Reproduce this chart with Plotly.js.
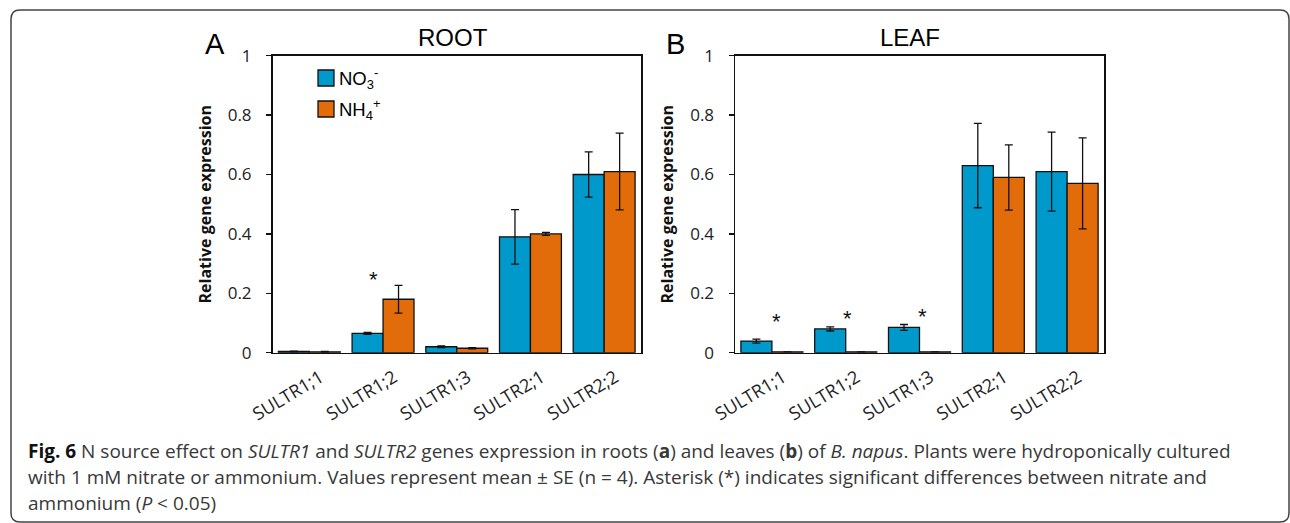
<!DOCTYPE html>
<html>
<head>
<meta charset="utf-8">
<script src="https://cdn.plot.ly/plotly-3.0.1.min.js"></script>
<style>
  html, body { margin: 0; padding: 0; background: #ffffff; }
  #chart { width: 1290px; height: 523px; }
</style>
</head>
<body>
<div id="chart"></div>
<script>
// ---- data ----
var genes = ["SULTR1;1", "SULTR1;2", "SULTR1;3", "SULTR2;1", "SULTR2;2"];

var rootNitrate     = [0.004, 0.065, 0.020, 0.39, 0.60];
var rootNitrateSE   = [0.001, 0.003, 0.003, 0.092, 0.076];
var rootAmmonium    = [0.003, 0.180, 0.015, 0.40, 0.61];
var rootAmmoniumSE  = [0.001, 0.047, 0.002, 0.005, 0.129];

var leafNitrate     = [0.039, 0.080, 0.085, 0.63, 0.61];
var leafNitrateSE   = [0.007, 0.007, 0.010, 0.142, 0.133];
var leafAmmonium    = [0.003, 0.003, 0.003, 0.59, 0.57];
var leafAmmoniumSE  = [0.000, 0.000, 0.000, 0.110, 0.153];

// significance marks: [gene, y position]
var rootStars = [["SULTR1;2", 0.245]];
var leafStars = [["SULTR1;1", 0.106], ["SULTR1;2", 0.116], ["SULTR1;3", 0.121]];

var yTickVals = [0, 0.2, 0.4, 0.6, 0.8, 1];
var yTickText = ["0", "0.2", "0.4", "0.6", "0.8", "1"];

var nitrateColor = "#0099CC";
var ammoniumColor = "#E36C0A";
var seriesNames = ["NO<sub>3</sub><sup>-</sup>", "NH<sub>4</sub><sup>+</sup>"];

// ---- helpers ----
var W = 1290, H = 523;
function px(x) { return x / W; }
function py(y) { return 1 - y / H; }

function barTrace(vals, se, color, name, xa, ya) {
  return {
    type: "bar",
    x: genes,
    y: vals,
    name: name,
    xaxis: xa,
    yaxis: ya,
    showlegend: false,
    marker: { color: color, line: { color: "#111111", width: 1.3 } },
    error_y: { type: "data", array: se, visible: true, color: "#111111", thickness: 1.3, width: 4 },
    hoverinfo: "x+y"
  };
}

var data = [
  barTrace(rootNitrate, rootNitrateSE, nitrateColor, seriesNames[0], "x", "y"),
  barTrace(rootAmmonium, rootAmmoniumSE, ammoniumColor, seriesNames[1], "x", "y"),
  barTrace(leafNitrate, leafNitrateSE, nitrateColor, seriesNames[0], "x2", "y2"),
  barTrace(leafAmmonium, leafAmmoniumSE, ammoniumColor, seriesNames[1], "x2", "y2")
];

var tickFont = { family: "Open Sans, sans-serif", size: 17, color: "#222222" };
var xTickFont = { family: "Open Sans, sans-serif", size: 18, color: "#222222" };

function yAxis(anchor) {
  return {
    anchor: anchor,
    domain: [py(352.7), py(55.7)],
    range: [0, 1],
    tickvals: yTickVals,
    ticktext: yTickText,
    ticks: "outside",
    ticklen: 5,
    tickwidth: 1.3,
    tickcolor: "#111111",
    tickfont: tickFont,
    ticklabelstandoff: 11,
    showline: true,
    linecolor: "#111111",
    linewidth: 1.5,
    mirror: true,
    showgrid: false,
    zeroline: false,
    title: {
      text: "<b>Relative gene expression</b>",
      font: { family: "Open Sans, sans-serif", size: 16, color: "#111111" },
      standoff: 12
    }
  };
}

function xAxis(domain, anchor) {
  return {
    anchor: anchor,
    domain: domain,
    type: "category",
    tickangle: -31,
    ticks: "",
    tickfont: xTickFont,
    ticklabelshift: 11,
    ticklabelstandoff: 6,
    showline: true,
    linecolor: "#111111",
    linewidth: 1.5,
    mirror: true,
    showgrid: false,
    zeroline: false
  };
}

function paperText(text, x, y, size, xanchor) {
  return { text: text, x: px(x), y: py(y), xref: "paper", yref: "paper", showarrow: false,
    xanchor: xanchor || "center", yanchor: "middle", align: "left",
    font: { family: "Liberation Sans, Arial, sans-serif", size: size, color: "#000" } };
}

var captionFont = { family: "Open Sans, sans-serif", size: 19, color: "#383838" };
function captionLine(text, y) {
  return { text: text, x: px(26), y: py(y), xref: "paper", yref: "paper", xanchor: "left", yanchor: "middle",
    align: "left", showarrow: false, font: captionFont };
}

var annotations = [
  paperText("A", 215, 44, 29),
  paperText("B", 675, 44, 29),
  paperText("ROOT", 453, 37, 24),
  paperText("LEAF", 910, 37, 24),
  paperText(seriesNames[0], 337, 78, 18.5, "left"),
  paperText(seriesNames[1], 337, 109, 18.5, "left"),
  captionLine("<b style='color:#111'>Fig. 6</b> N source effect on <i>SULTR1</i> and <i>SULTR2</i> genes expression in roots (<b>a</b>) and leaves (<b>b</b>) of <i>B. napus</i>. Plants were hydroponically cultured", 451),
  captionLine("with 1 mM nitrate or ammonium. Values represent mean ± SE (n = 4). Asterisk (*) indicates significant differences between nitrate and", 477),
  captionLine("ammonium (<i>P</i> &lt; 0.05)", 503)
];

var rootShift = [-10];
var leafShift = [5, 2, 3];
rootStars.forEach(function (s, i) {
  annotations.push({ text: "*", x: s[0], y: s[1], xref: "x", yref: "y", showarrow: false, xshift: rootShift[i],
    xanchor: "center", yanchor: "middle", font: { family: "Liberation Sans, Arial, sans-serif", size: 22, color: "#111" } });
});
leafStars.forEach(function (s, i) {
  annotations.push({ text: "*", x: s[0], y: s[1], xref: "x2", yref: "y2", showarrow: false, xshift: leafShift[i],
    xanchor: "center", yanchor: "middle", font: { family: "Liberation Sans, Arial, sans-serif", size: 22, color: "#111" } });
});

// rounded frame
var x0 = px(11), x1 = px(1289), y0 = py(522), y1 = py(10);
var rx = 9 / W, ry = 9 / H;
var framePath = "M" + (x0 + rx) + "," + y1 +
  " L" + (x1 - rx) + "," + y1 +
  " Q" + x1 + "," + y1 + " " + x1 + "," + (y1 - ry) +
  " L" + x1 + "," + (y0 + ry) +
  " Q" + x1 + "," + y0 + " " + (x1 - rx) + "," + y0 +
  " L" + (x0 + rx) + "," + y0 +
  " Q" + x0 + "," + y0 + " " + x0 + "," + (y0 + ry) +
  " L" + x0 + "," + (y1 - ry) +
  " Q" + x0 + "," + y1 + " " + (x0 + rx) + "," + y1 + " Z";

var shapes = [
  { type: "path", path: framePath, xref: "paper", yref: "paper", line: { color: "#444444", width: 1.5 }, fillcolor: "rgba(0,0,0,0)" },
  // legend swatches
  { type: "rect", xref: "paper", yref: "paper", x0: px(318), x1: px(334), y0: py(86), y1: py(70),
    fillcolor: nitrateColor, line: { color: "#111", width: 1.3 } },
  { type: "rect", xref: "paper", yref: "paper", x0: px(318), x1: px(334), y0: py(117), y1: py(101),
    fillcolor: ammoniumColor, line: { color: "#111", width: 1.3 } }
];

var layout = {
  width: W,
  height: H,
  margin: { l: 0, r: 0, t: 0, b: 0, pad: 0 },
  paper_bgcolor: "#ffffff",
  plot_bgcolor: "#ffffff",
  barmode: "group",
  bargap: 0.16,
  bargroupgap: 0,
  showlegend: false,
  xaxis: xAxis([px(272.5), px(641)], "y"),
  yaxis: yAxis("x"),
  xaxis2: xAxis([px(735), px(1104)], "y2"),
  yaxis2: yAxis("x2"),
  annotations: annotations,
  shapes: shapes
};

Plotly.newPlot("chart", data, layout, { displayModeBar: false, staticPlot: true });
</script>
</body>
</html>
